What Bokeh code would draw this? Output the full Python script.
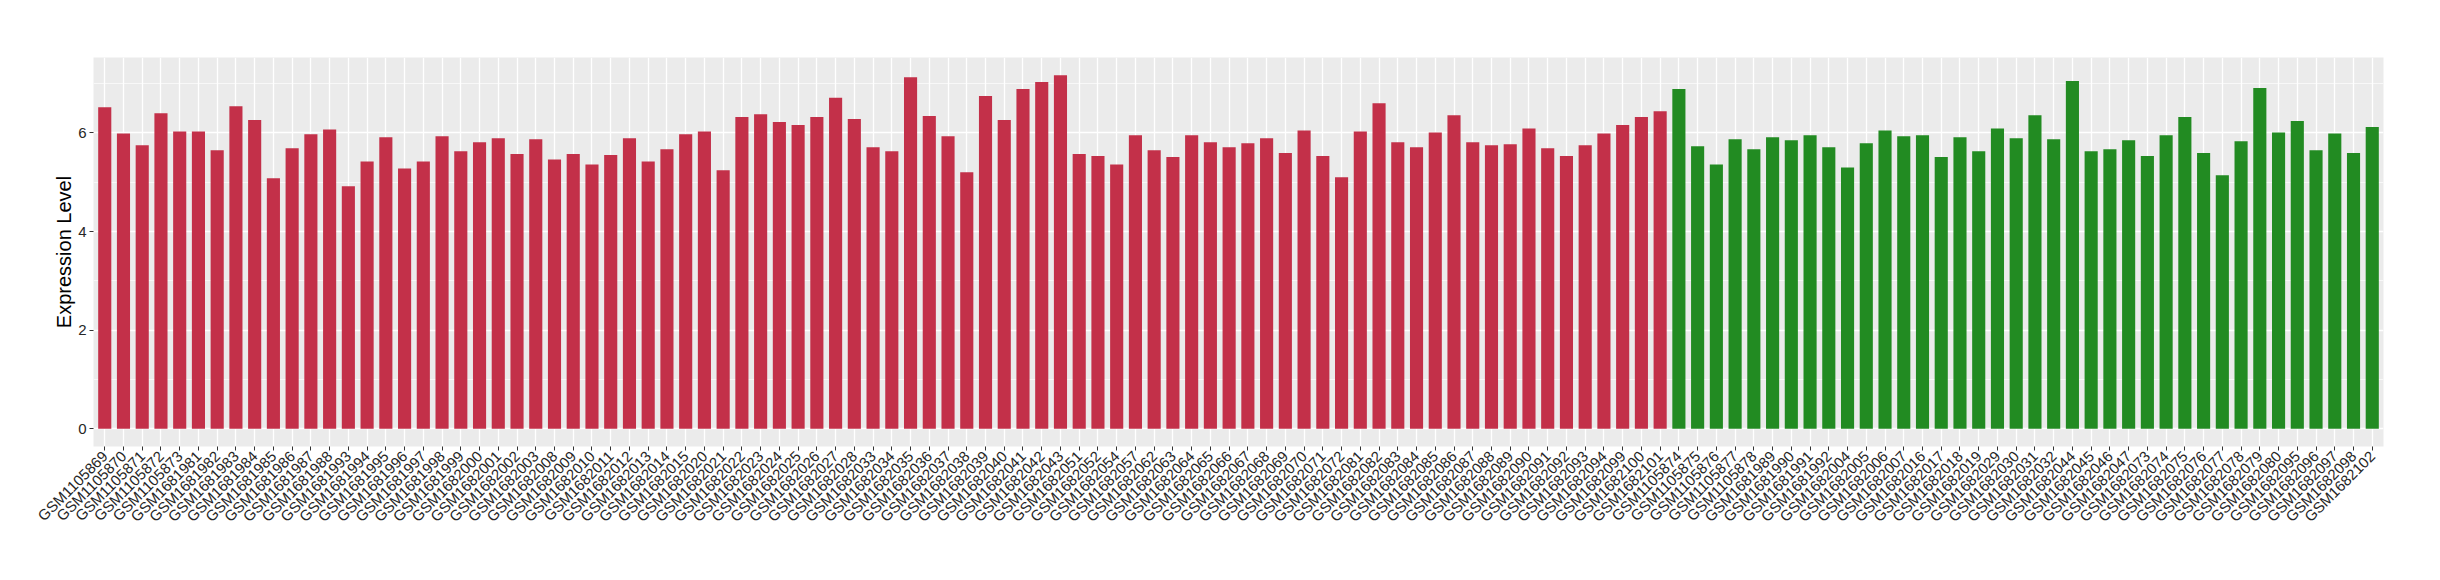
import math
from bokeh.plotting import figure
from bokeh.models import FactorRange, Range1d, FixedTicker, ColumnDataSource
from bokeh.embed import file_html
from bokeh.resources import INLINE

red_samples = [
    "GSM1105869", "GSM1105870", "GSM1105871", "GSM1105872", "GSM1105873",
    "GSM1681981", "GSM1681982", "GSM1681983", "GSM1681984", "GSM1681985",
    "GSM1681986", "GSM1681987", "GSM1681988", "GSM1681993", "GSM1681994",
    "GSM1681995", "GSM1681996", "GSM1681997", "GSM1681998", "GSM1681999",
    "GSM1682000", "GSM1682001", "GSM1682002", "GSM1682003", "GSM1682008",
    "GSM1682009", "GSM1682010", "GSM1682011", "GSM1682012", "GSM1682013",
    "GSM1682014", "GSM1682015", "GSM1682020", "GSM1682021", "GSM1682022",
    "GSM1682023", "GSM1682024", "GSM1682025", "GSM1682026", "GSM1682027",
    "GSM1682028", "GSM1682033", "GSM1682034", "GSM1682035", "GSM1682036",
    "GSM1682037", "GSM1682038", "GSM1682039", "GSM1682040", "GSM1682041",
    "GSM1682042", "GSM1682043", "GSM1682051", "GSM1682052", "GSM1682054",
    "GSM1682057", "GSM1682062", "GSM1682063", "GSM1682064", "GSM1682065",
    "GSM1682066", "GSM1682067", "GSM1682068", "GSM1682069", "GSM1682070",
    "GSM1682071", "GSM1682072", "GSM1682081", "GSM1682082", "GSM1682083",
    "GSM1682084", "GSM1682085", "GSM1682086", "GSM1682087", "GSM1682088",
    "GSM1682089", "GSM1682090", "GSM1682091", "GSM1682092", "GSM1682093",
    "GSM1682094", "GSM1682099", "GSM1682100", "GSM1682101",
]
red_values = [
    6.52, 5.99, 5.75, 6.40, 6.03, 6.03, 5.65, 6.54, 6.26, 5.08,
    5.69, 5.97, 6.07, 4.92, 5.42, 5.91, 5.28, 5.42, 5.93, 5.63,
    5.81, 5.89, 5.57, 5.87, 5.46, 5.57, 5.36, 5.55, 5.89, 5.42,
    5.67, 5.97, 6.03, 5.24, 6.32, 6.38, 6.22, 6.16, 6.32, 6.71,
    6.28, 5.71, 5.63, 7.13, 6.34, 5.93, 5.20, 6.75, 6.26, 6.89,
    7.03, 7.17, 5.57, 5.53, 5.36, 5.95, 5.65, 5.51, 5.95, 5.81,
    5.71, 5.79, 5.89, 5.59, 6.05, 5.53, 5.10, 6.03, 6.60, 5.81,
    5.71, 6.01, 6.36, 5.81, 5.75, 5.77, 6.09, 5.69, 5.53, 5.75,
    5.99, 6.16, 6.32, 6.44,
]
green_samples = [
    "GSM1105874", "GSM1105875", "GSM1105876", "GSM1105877", "GSM1105878",
    "GSM1681989", "GSM1681990", "GSM1681991", "GSM1681992", "GSM1682004",
    "GSM1682005", "GSM1682006", "GSM1682007", "GSM1682016", "GSM1682017",
    "GSM1682018", "GSM1682019", "GSM1682029", "GSM1682030", "GSM1682031",
    "GSM1682032", "GSM1682044", "GSM1682045", "GSM1682046", "GSM1682047",
    "GSM1682073", "GSM1682074", "GSM1682075", "GSM1682076", "GSM1682077",
    "GSM1682078", "GSM1682079", "GSM1682080", "GSM1682095", "GSM1682096",
    "GSM1682097", "GSM1682098", "GSM1682102",
]
green_values = [
    6.89, 5.73, 5.36, 5.87, 5.67, 5.91, 5.85, 5.95, 5.71, 5.30,
    5.79, 6.05, 5.93, 5.95, 5.51, 5.91, 5.63, 6.09, 5.89, 6.36,
    5.87, 7.05, 5.63, 5.67, 5.85, 5.53, 5.95, 6.32, 5.59, 5.14,
    5.83, 6.91, 6.01, 6.24, 5.65, 5.99, 5.59, 6.12,
]
y_ticks = [0, 2, 4, 6]
y_minor = [1, 3, 5, 7]
y_title = "Expression Level"

RED = "#C33049"
GREEN = "#228B22"
FONT = "Liberation Sans"

factors = red_samples + green_samples
all_vals = red_values + green_values
ymax = max(all_vals)

p = figure(
    width=2424, height=564,
    x_range=FactorRange(factors=factors, range_padding=0.1,
                        range_padding_units="absolute", factor_padding=0),
    y_range=Range1d(-0.05 * ymax, ymax * 1.05),
    output_backend="svg", toolbar_location=None,
    min_border_left=93, min_border_right=41, min_border_top=57, min_border_bottom=118,
)
p.background_fill_color = "#EBEBEB"
p.border_fill_color = "white"
p.outline_line_color = None

src_r = ColumnDataSource(dict(x=red_samples, top=red_values))
src_g = ColumnDataSource(dict(x=green_samples, top=green_values))
p.vbar(x="x", top="top", bottom=0, width=0.7, source=src_r,
       fill_color=RED, line_color=None)
p.vbar(x="x", top="top", bottom=0, width=0.7, source=src_g,
       fill_color=GREEN, line_color=None)

# grids
p.xgrid.grid_line_color = "white"
p.xgrid.grid_line_width = 1.3
p.ygrid.ticker = FixedTicker(ticks=y_ticks, minor_ticks=y_minor)
p.ygrid.grid_line_color = "white"
p.ygrid.grid_line_width = 1.3
p.ygrid.minor_grid_line_color = "white"
p.ygrid.minor_grid_line_width = 0.65
p.xgrid.level = "underlay"
p.ygrid.level = "underlay"

# y axis
p.yaxis.ticker = FixedTicker(ticks=y_ticks, minor_ticks=y_minor)
p.yaxis.axis_label = y_title
p.yaxis.axis_label_text_font = FONT
p.yaxis.axis_label_text_font_size = "20px"
p.yaxis.axis_label_text_font_style = "normal"
p.yaxis.axis_label_text_color = "black"
p.yaxis.axis_label_standoff = 0
p.yaxis.major_label_text_font = FONT
p.yaxis.major_label_text_font_size = "15px"
p.yaxis.major_label_text_color = "#262626"
p.yaxis.major_label_standoff = 3

# x axis
p.xaxis.major_label_orientation = math.pi / 4
p.xaxis.major_label_text_font = FONT
p.xaxis.major_label_text_font_size = "15px"
p.xaxis.major_label_text_color = "#262626"
p.xaxis.major_label_standoff = 3

for ax in (p.xaxis, p.yaxis):
    ax.axis_line_color = None
    ax.major_tick_line_color = "#333333"
    ax.major_tick_line_width = 1
    ax.major_tick_out = 4
    ax.major_tick_in = 0
    ax.minor_tick_line_color = None

open("out.html", "w").write(file_html(p, INLINE))
